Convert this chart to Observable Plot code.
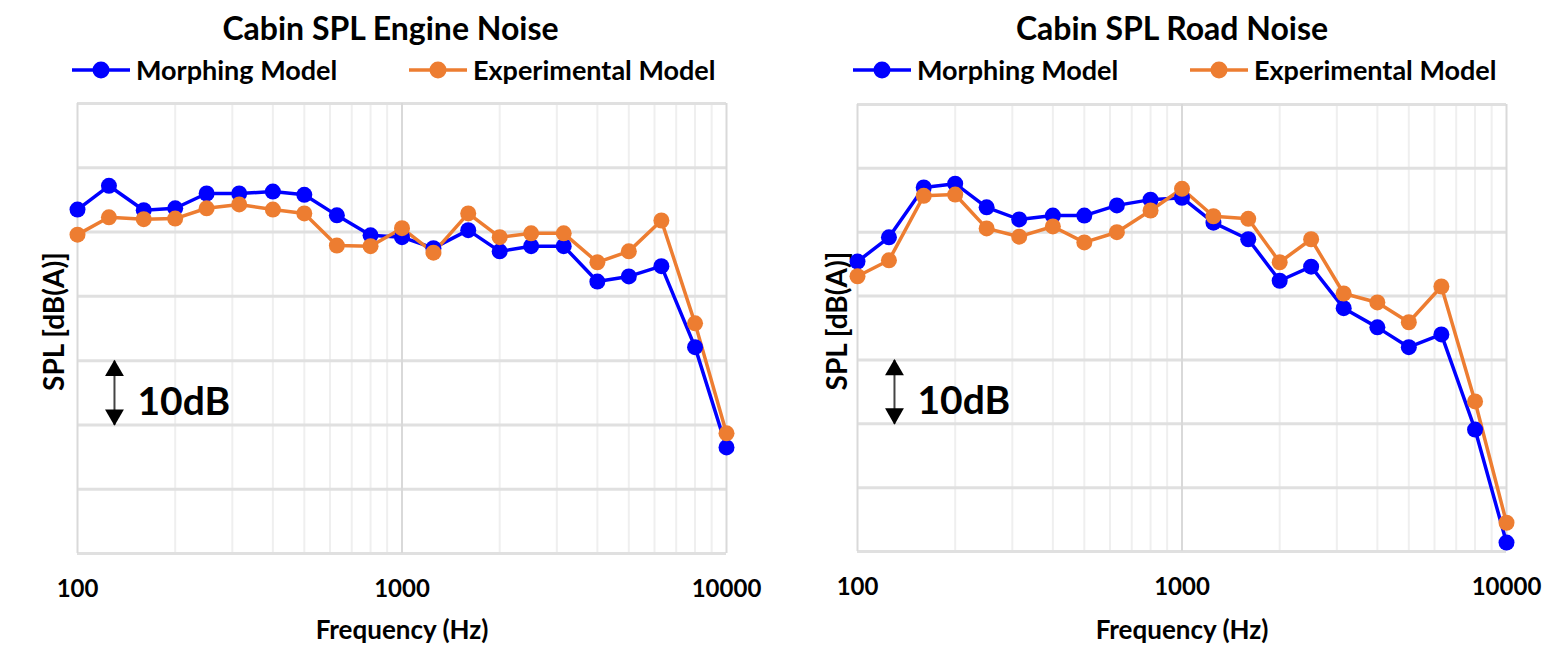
<!DOCTYPE html>
<html>
<head>
<meta charset="utf-8">
<script src="https://cdn.jsdelivr.net/npm/d3@7"></script>
<script src="https://cdn.jsdelivr.net/npm/@observablehq/plot@0.6"></script>
<style>
  body { margin: 0; background: #fff; font-family: Lato, "Open Sans", sans-serif; }
  #wrap { display: flex; width: 1563px; height: 651px; overflow: hidden; }
  .panel { position: relative; height: 651px; }
  .title { position: absolute; top: 10px; left: 0; right: 0; text-align: center; font-weight: 700; font-size: 32px; line-height: 36px; color: #000; }
  .leg { position: absolute; top: 55px; display: flex; align-items: center; font-weight: 700; font-size: 27px; line-height: 30px; color: #000; }
  .leg svg { margin-right: 6px; }
  .chart { position: absolute; top: 90px; left: 0; }
</style>
</head>
<body>
<div id="wrap"></div>
<script>
// ---- data ----
const freqs = [100,125,160,200,250,315,400,500,630,800,1000,1250,1600,2000,2500,3150,4000,5000,6300,8000,10000];
const engineMorphing = [73.5,77.2,73.4,73.7,76.0,76.0,76.3,75.8,72.6,69.5,69.2,67.5,70.3,67.0,67.8,67.8,62.3,63.1,64.7,52.1,36.5];
const engineExperimental = [69.6,72.3,72.0,72.1,73.7,74.3,73.5,72.9,67.9,67.8,70.6,66.8,72.9,69.2,69.8,69.8,65.3,67.0,71.8,55.8,38.7];
const roadMorphing = [65.4,69.2,77.0,77.6,73.9,72.0,72.6,72.6,74.2,75.1,75.4,71.5,68.9,62.4,64.6,58.1,55.1,52.0,54.0,39.1,21.4];
const roadExperimental = [63.1,65.6,75.7,75.9,70.6,69.3,70.9,68.4,70.0,73.4,76.8,72.5,72.1,65.3,68.9,60.4,59.0,55.9,61.5,43.5,24.5];
const seriesNames = ["Morphing Model", "Experimental Model"];
const seriesColors = ["#0000ff", "#ed7d31"];
const xTicks = [100, 1000, 10000];
const xMinor = [200,300,400,500,600,700,800,900,2000,3000,4000,5000,6000,7000,8000,9000];
const yGrid = [20,30,40,50,60,70,80,90];
const titles = ["Cabin SPL Engine Noise", "Cabin SPL Road Noise"];
const scaleBar = {x: 130, top: 50, bottom: 40, labelX: 153, labelY: 43.5, label: "10dB"};

function legendSwatch(color) {
  return `<svg width="58" height="20"><line x1="0" x2="58" y1="10" y2="10" stroke="${color}" stroke-width="3.5"/><circle cx="29" cy="10" r="8.5" fill="${color}"/></svg>`;
}

function makePanel(title, morph, exp, layout) {
  const panel = document.createElement("div");
  panel.className = "panel";
  panel.style.width = layout.width + "px";
  const t = document.createElement("div");
  t.className = "title";
  t.textContent = title;
  panel.appendChild(t);
  seriesNames.forEach((name, i) => {
    const l = document.createElement("div");
    l.className = "leg";
    l.style.left = layout.legendLeft[i] + "px";
    l.innerHTML = legendSwatch(seriesColors[i]) + `<span>${name}</span>`;
    panel.appendChild(l);
  });

  const rows = [];
  freqs.forEach((f, i) => rows.push({f, v: morph[i], s: seriesNames[0]}));
  freqs.forEach((f, i) => rows.push({f, v: exp[i], s: seriesNames[1]}));

  const chart = Plot.plot({
    width: layout.width,
    height: 561,
    marginLeft: layout.ml,
    marginRight: layout.mr,
    marginTop: layout.mt,
    marginBottom: layout.mb,
    style: {fontFamily: "Lato, 'Open Sans', sans-serif", background: "#fff"},
    x: {type: "log", domain: [100, 10000]},
    y: {domain: [20, 90], axis: null},
    color: {domain: seriesNames, range: seriesColors},
    marks: [
      Plot.ruleX(xMinor, {stroke: "#efefef", strokeWidth: 2}),
      Plot.ruleY(yGrid, {stroke: "#e0e0e0", strokeWidth: 3}),
      Plot.ruleX(xTicks, {stroke: "#d9d9d9", strokeWidth: 2}),
      Plot.axisX({ticks: xTicks, tickFormat: d3.format("d"), tickSize: 0, tickPadding: 26, fontSize: 24, fontWeight: "bold", fill: "#000", label: null}),
      Plot.text(["Frequency (Hz)"], {frameAnchor: "bottom", lineAnchor: "middle", dy: layout.xLabelDy, fontSize: 26, fontWeight: "bold", fill: "#000"}),
      Plot.text(["SPL [dB(A)]"], {frameAnchor: "left", textAnchor: "middle", lineAnchor: "middle", dx: layout.yLabelDx, dy: -7, rotate: -90, fontSize: 28, fontWeight: "bold", fill: "#000"}),
      Plot.link([scaleBar], {x1: "x", x2: "x", y1: "top", y2: "bottom", stroke: "#444", strokeWidth: 2}),
      Plot.dot([scaleBar], {x: "x", y: "top", symbol: "triangle", r: 7, fill: "#000", dy: 10}),
      Plot.dot([scaleBar], {x: "x", y: "bottom", symbol: "triangle", r: 7, fill: "#000", dy: -10, rotate: 180}),
      Plot.text([scaleBar], {x: "labelX", y: "labelY", text: "label", textAnchor: "start", fontSize: 39, fontWeight: "bold", fill: "#000"}),
      Plot.line(rows, {x: "f", y: "v", z: "s", stroke: "s", strokeWidth: 3.5}),
      Plot.dot(rows, {x: "f", y: "v", fill: "s", r: 8})
    ]
  });
  chart.classList.add("chart");
  panel.appendChild(chart);
  return panel;
}

const wrap = document.getElementById("wrap");
wrap.appendChild(makePanel(titles[0], engineMorphing, engineExperimental,
  {width: 781, ml: 77, mr: 55, mt: 13, mb: 98, legendLeft: [72, 409], xLabelDy: 77, yLabelDx: -22}));
wrap.appendChild(makePanel(titles[1], roadMorphing, roadExperimental,
  {width: 782, ml: 76, mr: 57, mt: 14, mb: 100, legendLeft: [72, 409], xLabelDy: 79, yLabelDx: -19}));
</script>
</body>
</html>
